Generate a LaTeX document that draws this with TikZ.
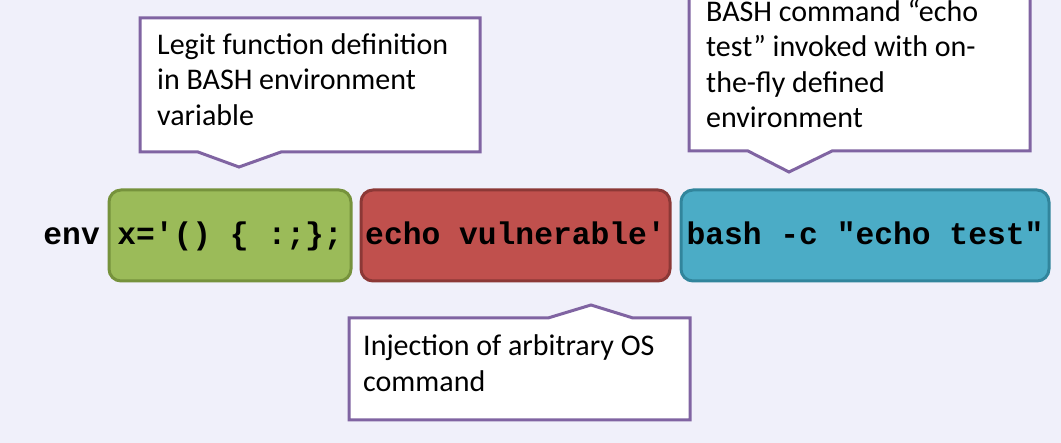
\documentclass[tikz,border=0pt]{standalone}
\usepackage{fontspec}
\setmainfont{Carlito}
\newfontfamily\codefont{Liberation Mono}
\definecolor{bgcol}{RGB}{240,240,250}
\definecolor{calloutline}{RGB}{128,100,162}
\definecolor{greenfill}{RGB}{155,187,89}
\definecolor{greenline}{RGB}{118,146,60}
\definecolor{redfill}{RGB}{192,80,77}
\definecolor{redline}{RGB}{140,56,54}
\definecolor{bluefill}{RGB}{75,172,198}
\definecolor{blueline}{RGB}{49,133,156}
\begin{document}
\begin{tikzpicture}[x=1pt,y=-1pt,
  codetext/.style={font=\codefont\bfseries\fontsize{31.3}{36}\selectfont},
  codebox/.style={codetext, draw, line width=3pt, rounded corners=12pt,
    minimum height=91pt, inner xsep=0pt, text height=22pt, text depth=3pt},
  frame/.style={draw=calloutline, fill=white, line width=3pt, line join=miter},
  note/.style={anchor=north west, inner sep=0pt, align=left,
    font=\fontsize{30}{35.5}\selectfont}]
  \useasboundingbox (0,0) rectangle (1061,443);
  \clip (0,0) rectangle (1061,443);
  \fill[bgcol] (0,0) rectangle (1061,443);

  % command parts
  \node[codetext, anchor=base east, inner sep=0pt] (env) at (100,245) {env};
  \node[codebox, fill=greenfill, draw=greenline, minimum width=242pt] (def) at (230,235.5) {x='() \{ :;\};};
  \node[codebox, fill=redfill, draw=redline, minimum width=309pt] (inj) at (515.5,235.5) {echo vulnerable'};
  \node[codebox, fill=bluefill, draw=blueline, minimum width=368pt] (cmd) at (865,235.5) {bash -c "echo test"};

  % callout frames
  \draw[frame] (140,18) -- (480,18) -- (480,152) -- (281,152) -- (239,167)
    -- (198,152) -- (140,152) -- cycle;
  \draw[frame] (689,-10) -- (1030,-10) -- (1030,151) -- (832,151) -- (789,172)
    -- (748,151) -- (689,151) -- cycle;
  \draw[frame] (349,318) -- (548,318) -- (591,305) -- (633,318) -- (690,318)
    -- (690,420) -- (349,420) -- cycle;

  % callout texts
  \node[note] (n1) at (157,33) {Legit function definition\\in BASH environment\\variable};
  \node[note] (n2) at (706,-0.5) {BASH command “echo\\test” invoked with on-\\the-fly defined\\environment};
  \node[note] (n3) at (363,334.5) {Injection of arbitrary OS\\command};
\end{tikzpicture}
\end{document}
